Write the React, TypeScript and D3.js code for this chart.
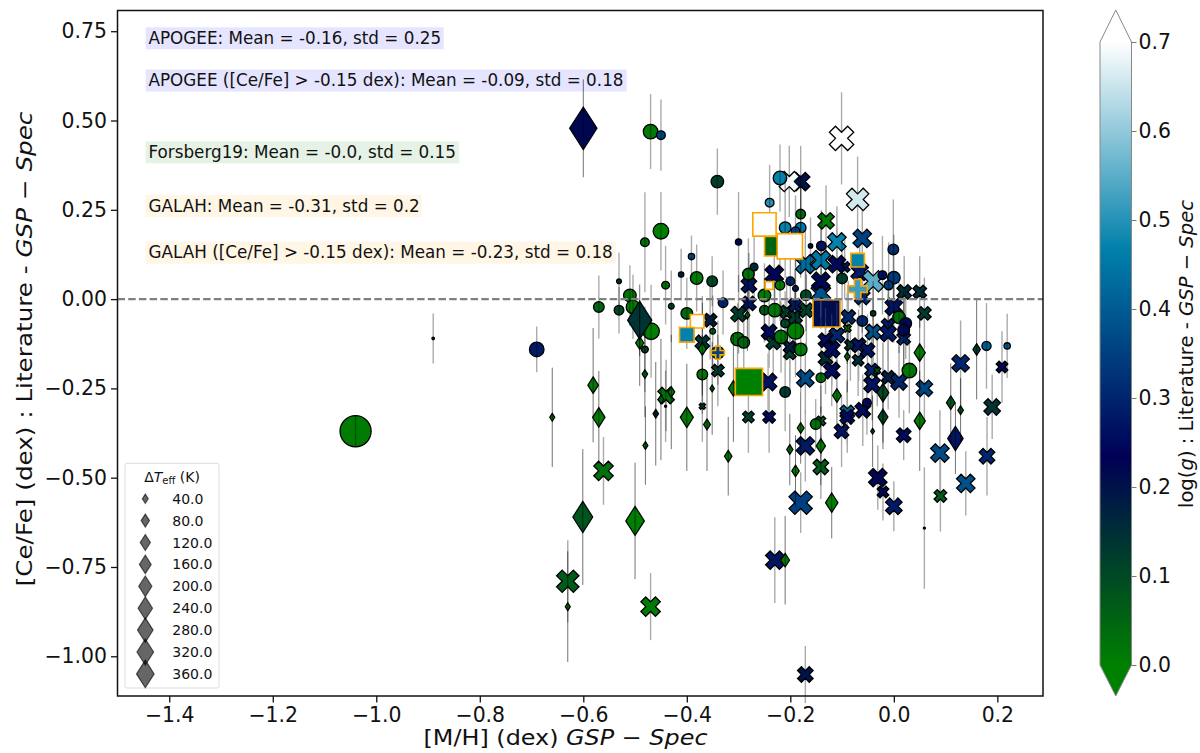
import React, {useEffect, useRef} from 'react';
import * as d3 from 'd3';

// each row: [M/H], [Ce/Fe], delta Teff, delta logg, [Ce/Fe] error
const crossPoints = [
    [-0.18, 0.329, 334, 0.2, 0.1], [-0.202, 0.329, 400, 0.69, 0.1], [-0.101, 0.45, 580, 0.7, 0.129], [-0.07, 0.279, 490, 0.66, 0.12],
    [-0.131, 0.219, 267, 0.01, 0.1], [-0.11, 0.16, 334, 0.47, 0.1], [-0.061, 0.17, 334, 0.35, 0.1],
    [-0.141, 0.017, 370, 0.38, 0.1], [-0.141, 0.05, 334, 0.22, 0.1], [-0.171, 0.098, 370, 0.43, 0.1], [-0.141, 0.109, 370, 0.45, 0.1],
    [-0.095, 0.09, 112, 0.27, 0.09], [-0.11, 0.098, 300, 0.25, 0.1], [-0.231, 0.069, 334, 0.24, 0.1],
    [-0.061, 0.006, 237, 0.3, 0.1], [-0.066, 0.076, 300, 0.28, 0.1], [-0.04, 0.05, 447, 0.55, 0.11], [0.02, 0.02, 208, 0.15, 0.1], [0.05, 0.02, 181, 0.15, 0.1],
    [-0.28, 0.039, 237, 0.27, 0.09], [-0.28, -0.012, 208, 0.27, 0.1], [-0.3, -0.042, 237, 0.12, 0.11], [-0.355, -0.059, 181, 0.18, 0.11],
    [-0.37, -0.121, 208, 0.14, 0.13], [-0.233, -0.121, 208, 0.13, 0.1], [-0.241, -0.092, 237, 0.25, 0.1], [-0.34, -0.2, 156, 0.13, 0.1],
    [-0.243, -0.232, 300, 0.27, 0.08], [-0.44, -0.27, 267, 0.03, 0.1], [-0.37, -0.3, 39, 0.1, 0.1], [-0.281, -0.33, 133, 0.12, 0.1], [-0.241, -0.33, 156, 0.25, 0.1],
    [-0.561, -0.481, 370, 0.03, 0.095], [-0.63, -0.79, 490, 0.07, 0.115], [-0.47, -0.861, 370, 0.01, 0.094], [-0.23, -0.731, 334, 0.27, 0.12],
    [-0.18, -0.57, 532, 0.35, 0.085], [-0.171, -1.051, 237, 0.2, 0.08], [0, -0.58, 267, 0.28, 0.07], [-0.021, -0.54, 133, 0.22, 0.08],
    [0.09, -0.551, 156, 0.07, 0.1], [0.139, -0.516, 334, 0.38, 0.09], [0, -0.022, 300, 0.27, 0.1], [0.059, -0.04, 181, 0.13, 0.1],
    [-0.088, -0.05, 208, 0.3, 0.1], [-0.207, -0.036, 181, 0.12, 0.1], [-0.191, -0.05, 208, 0.13, 0.1], [-0.191, -0.017, 181, 0.28, 0.1], [-0.169, -0.031, 208, 0.12, 0.1],
    [-0.201, -0.152, 156, 0.12, 0.1], [-0.201, -0.134, 156, 0.18, 0.1], [-0.132, -0.166, 208, 0.15, 0.1], [-0.132, -0.115, 208, 0.25, 0.09], [-0.11, -0.101, 237, 0.3, 0.09],
    [-0.12, -0.141, 267, 0.25, 0.1], [-0.12, -0.2, 267, 0.25, 0.1], [-0.171, -0.222, 300, 0.37, 0.1], [-0.069, -0.171, 133, 0.15, 0.1], [-0.084, -0.129, 133, 0.14, 0.1],
    [-0.068, -0.129, 208, 0.27, 0.1], [-0.051, -0.143, 208, 0.27, 0.1], [-0.09, -0.082, 59, 0.03, 0.1], [-0.04, -0.092, 237, 0.38, 0.09], [-0.011, -0.073, 181, 0.28, 0.1],
    [-0.011, -0.096, 267, 0.28, 0.11], [0.019, -0.11, 181, 0.3, 0.11], [-0.043, -0.199, 181, 0.3, 0.1], [-0.032, -0.2, 45, 0.05, 0.1], [-0.011, -0.219, 181, 0.18, 0.09],
    [-0.042, -0.239, 267, 0.27, 0.1], [0.01, -0.232, 267, 0.3, 0.1], [0.059, -0.25, 267, 0.36, 0.1], [0.129, -0.18, 300, 0.3, 0.12], [0.209, -0.19, 133, 0.22, 0.1],
    [0.19, -0.302, 267, 0.14, 0.09], [-0.141, -0.341, 92, 0.07, 0.1], [-0.09, -0.317, 208, 0.4, 0.09], [-0.09, -0.33, 208, 0.25, 0.1], [-0.06, -0.311, 237, 0.25, 0.1],
    [-0.101, -0.37, 208, 0.27, 0.1], [-0.171, -0.411, 334, 0.28, 0.1], [-0.141, -0.47, 237, 0.07, 0.09], [0.019, -0.381, 208, 0.25, 0.07], [0.089, -0.431, 334, 0.37, 0.12],
    [0.18, -0.44, 237, 0.3, 0.11], [-0.031, -0.5, 334, 0.22, 0.09],
];

const circlePoints = [
    [-0.47, 0.469, 208, 0.01, 0.105], [-0.45, 0.459, 75, 0.36, 0.1], [-0.341, 0.329, 156, 0.12, 0.093], [-0.24, 0.27, 75, 0.5, 0.106], [-0.22, 0.339, 181, 0.47, 0.094],
    [-0.481, 0.159, 75, 0.03, 0.14], [-0.45, 0.19, 237, 0, 0.11], [-0.3, 0.16, 39, 0.25, 0.14], [-0.391, 0.119, 39, 0.37, 0.059], [-0.531, 0.05, 23, 0.12, 0.08],
    [-0.411, 0.069, 28, 0.17, 0.072], [-0.381, 0.059, 156, 0.01, 0.094], [-0.351, 0.05, 112, 0.1, 0.07], [-0.441, 0.039, 59, 0.02, 0.11], [-0.51, 0.01, 156, 0.02, 0.085],
    [-0.57, -0.022, 112, 0.05, 0.088], [-0.531, -0.031, 92, 0.1, 0.065], [-0.504, -0.022, 181, 0.01, 0.09], [-0.469, -0.09, 267, 0, 0.13], [-0.481, -0.141, 45, 0.1, 0.12],
    [-0.43, -0.02, 33, 0.1, 0.1], [-0.4, -0.04, 133, 0.04, 0.1], [-0.33, -0.01, 92, 0.3, 0.09], [-0.69, -0.141, 208, 0.28, 0.064], [-1.04, -0.37, 947, 0.01, 0.045],
    [-0.37, -0.211, 112, 0.02, 0.11], [-0.302, -0.112, 181, 0.02, 0.1], [-0.29, -0.121, 133, 0.05, 0.12], [-0.25, -0.031, 92, 0.07, 0.09], [-0.23, -0.031, 181, 0.02, 0.09],
    [-0.25, 0.01, 156, 0.01, 0.09], [-0.281, 0.07, 133, 0.03, 0.1], [-0.27, 0.09, 59, 0.15, 0.09], [-0.35, -0.09, 33, 0.05, 0.1], [-0.22, 0.039, 92, 0.01, 0.1],
    [-0.2, 0.05, 75, 0.3, 0.1], [-0.19, 0.03, 33, 0.3, 0.09], [-0.17, 0.011, 112, 0.1, 0.1], [-0.19, -0.089, 267, 0, 0.13], [-0.218, -0.106, 181, 0.02, 0.1],
    [-0.21, -0.068, 75, 0.1, 0.09], [-0.18, 0.238, 92, 0.04, 0.11], [-0.21, 0.2, 133, 0.47, 0.14], [-0.18, 0.2, 112, 0.45, 0.14], [-0.19, 0.19, 75, 0.35, 0.1],
    [-0.14, 0.149, 92, 0.27, 0.1], [-0.161, 0.149, 19, 0.2, 0.08], [-0.1, 0.058, 112, 0.12, 0.1], [-0.001, 0.139, 112, 0.32, 0.14], [0, 0.06, 156, 0.34, 0.12],
    [-0.01, 0.039, 83, 0.34, 0.12], [-0.022, 0.067, 75, 0.26, 0.11], [0.01, -0.051, 156, 0.03, 0.1], [0.023, -0.068, 133, 0.25, 0.1], [0.019, -0.087, 133, 0.25, 0.11],
    [-0.061, -0.061, 112, 0.3, 0.1], [-0.04, -0.04, 28, 0.12, 0.09], [-0.18, -0.141, 156, 0.01, 0.12], [-0.21, -0.26, 112, 0.13, 0.11], [-0.141, -0.22, 92, 0.03, 0.1],
    [0.03, -0.2, 208, 0.02, 0.12], [-0.151, -0.35, 112, 0.03, 0.07], [-0.052, -0.29, 75, 0.25, 0.09], [0.179, -0.131, 83, 0.4, 0.12], [0.219, -0.131, 39, 0.4, 0.09],
    [-0.89, -0.11, 6, 0.05, 0.07], [0.059, -0.641, 4, 0.1, 0.17], [-0.441, -0.3, 4, 0.1, 0.1], [-0.34, -0.15, 156, 0.02, 0.09],
];

const diamondPoints = [
    [-0.6, 0.478, 896, 0.22, 0.137], [-0.491, -0.123, 80, 0.01, 0.12], [-0.491, -0.059, 704, 0.14, 0.1], [-0.581, -0.241, 134, 0.01, 0.16], [-0.57, -0.331, 185, 0.01, 0.13],
    [-0.66, -0.331, 30, 0.02, 0.139], [-0.481, -0.21, 37, 0.03, 0.12], [-0.48, -0.41, 30, 0.03, 0.11], [-0.46, -0.321, 37, 0.17, 0.145], [-0.43, -0.26, 56, 0.02, 0.16],
    [-0.45, -0.281, 37, 0.01, 0.17], [-0.4, -0.331, 204, 0.01, 0.15], [-0.37, -0.14, 78, 0.01, 0.13], [-0.351, -0.25, 23, 0.03, 0.13], [-0.361, -0.351, 56, 0.02, 0.13],
    [-0.32, -0.44, 67, 0.01, 0.11], [-0.31, -0.25, 120, 0.01, 0.15], [-0.283, -0.045, 30, 0.01, 0.1], [-0.11, -0.27, 91, 0.01, 0.1], [-0.09, -0.161, 37, 0.01, 0.1],
    [-0.021, -0.262, 167, 0.1, 0.14], [0.05, -0.15, 150, 0.01, 0.1], [0.05, -0.341, 150, 0.01, 0.14], [-0.021, -0.33, 118, 0.1, 0.09], [-0.18, -0.361, 56, 0.01, 0.1],
    [-0.201, -0.421, 46, 0.02, 0.1], [-0.141, -0.411, 104, 0, 0.11], [-0.19, -0.481, 67, 0.01, 0.1], [-0.041, -0.37, 17, 0.05, 0.1], [0.11, -0.29, 91, 0.07, 0.11],
    [0.129, -0.311, 37, 0.05, 0.09], [0.119, -0.39, 289, 0.27, 0.1], [0.16, -0.141, 67, 0.12, 0.14], [-0.601, -0.61, 474, 0.08, 0.19], [-0.5, -0.621, 416, 0, 0.163],
    [-0.63, -0.861, 30, 0.02, 0.155], [-0.21, -0.731, 91, 0, 0.124], [-0.12, -0.57, 185, 0, 0.1],
];

// Forsberg19 points carry no visible error bar
const squarePoints = [
    [-0.231, 0.148, 370, 0.05], [-0.25, 0.209, 532, 0.7], [-0.201, 0.148, 625, 0.7], [-0.241, 0.038, 59, 0.7], [-0.07, 0.109, 181, 0.47],
    [-0.13, -0.04, 725, 0.21], [-0.38, -0.062, 181, 0.7], [-0.4, -0.1, 208, 0.47], [-0.28, -0.232, 725, 0],
];
const plusPoints = [[-0.07, 0.028, 370, 0.52], [-0.34, -0.15, 170, 0.35]];

const xTicks = [-1.4, -1.2, -1.0, -0.8, -0.6, -0.4, -0.2, 0.0, 0.2];
const yTicks = [0.75, 0.5, 0.25, 0, -0.25, -0.5, -0.75, -1.0];
const colorTicks = [0, 0.1, 0.2, 0.3, 0.4, 0.5, 0.6, 0.7];
const legendSizes = [40, 80, 120, 160, 200, 240, 280, 320, 360];

const notes = [
    {text: 'APOGEE: Mean = -0.16, std = 0.25', fill: 'rgb(229,229,255)', top: 27.3, width: 298},
    {text: 'APOGEE ([Ce/Fe] > -0.15 dex): Mean = -0.09, std = 0.18', fill: 'rgb(229,229,255)', top: 69.5, width: 481},
    {text: 'Forsberg19: Mean = -0.0, std = 0.15', fill: 'rgb(229,242,229)', top: 141.3, width: 313.5},
    {text: 'GALAH: Mean = -0.31, std = 0.2', fill: 'rgb(255,246,229)', top: 195, width: 276},
    {text: 'GALAH ([Ce/Fe] > -0.15 dex): Mean = -0.23, std = 0.18', fill: 'rgb(255,246,229)', top: 241.7, width: 470},
];

const font = 'DejaVu Sans';

// marker outlines as d3 symbol types, width = sqrt(size) like matplotlib markers
const circleType = {draw(c, s) { c.arc(0, 0, Math.sqrt(s) / 2, 0, 2 * Math.PI); }};
const squareType = {draw(c, s) { const r = Math.sqrt(s) / 2; c.rect(-r, -r, 2 * r, 2 * r); }};
const diamondType = {draw(c, s) {
    const h = Math.sqrt(s) * 0.707, w = h * 0.64;
    c.moveTo(0, -h); c.lineTo(w, 0); c.lineTo(0, h); c.lineTo(-w, 0); c.closePath();
}};
const polygonType = (pts, unit) => ({draw(c, s) {
    const u = Math.sqrt(s) / unit;
    pts.forEach((p, i) => i ? c.lineTo(p[0] * u, p[1] * u) : c.moveTo(p[0] * u, p[1] * u));
    c.closePath();
}});
const crossType = polygonType([[-1, -2], [0, -1], [1, -2], [2, -1], [1, 0], [2, 1], [1, 2], [0, 1], [-1, 2], [-2, 1], [-1, 0], [-2, -1]], 4);
const plusType = polygonType([[-1, -3], [1, -3], [1, -1], [3, -1], [3, 1], [1, 1], [1, 3], [-1, 3], [-1, 1], [-3, 1], [-3, -1], [-1, -1]], 6);

const App: React.FC = () => {
    const svgRef = useRef<SVGSVGElement | null>(null);

    useEffect(() => {
        const svg = d3.select(svgRef.current);
        svg.selectAll('*').remove();

        const plot = {left: 117.5, right: 1043, top: 10.5, bottom: 696};
        const x = d3.scaleLinear().domain([-1.5, 0.2882]).range([plot.left, plot.right]);
        const y = d3.scaleLinear().domain([0.808, -1.1112]).range([plot.top, plot.bottom]);
        // matplotlib "ocean" is piecewise linear between these four stops
        const color = d3.scaleLinear<string>()
            .domain([0, 0.7 / 3, 1.4 / 3, 0.7])
            .range(['rgb(0,128,0)', 'rgb(0,0,85)', 'rgb(0,128,170)', 'rgb(255,255,255)'])
            .clamp(true);
        const markerSize = (t: number) => t * 1.02;

        // notes behind the points
        notes.forEach(n => {
            svg.append('rect').attr('x', 145.7).attr('y', n.top).attr('width', n.width).attr('height', 22).attr('fill', n.fill);
            svg.append('text').attr('x', 148.5).attr('y', n.top + 16.5).attr('font-family', font).attr('font-size', 16.8).attr('fill', '#111').text(n.text);
        });

        const drawErrors = (rows, stroke, width) => {
            svg.append('g').selectAll('line').data(rows).enter().append('line')
                .attr('x1', d => x(d[0])).attr('x2', d => x(d[0]))
                .attr('y1', d => y(d[1] - d[4])).attr('y2', d => y(d[1] + d[4]))
                .attr('stroke', stroke).attr('stroke-width', width);
        };
        const drawMarkers = (rows, type, edge, edgeWidth) => {
            const symbol = d3.symbol().type(type).size(d => markerSize(d[2]));
            svg.append('g').selectAll('path').data(rows).enter().append('path')
                .attr('transform', d => `translate(${x(d[0])},${y(d[1])})`)
                .attr('d', symbol)
                .attr('fill', d => color(d[3]))
                .attr('stroke', edge).attr('stroke-width', edgeWidth);
        };

        drawErrors(crossPoints, '#aaa', 1.4);
        drawMarkers(crossPoints, crossType, '#000', 1.3);
        drawMarkers(circlePoints, circleType, '#000', 1.3);
        drawErrors(circlePoints, 'rgba(0,0,0,0.33)', 1.4);
        drawMarkers(diamondPoints, diamondType, '#000', 1.2);
        drawErrors(diamondPoints, 'rgba(0,0,0,0.55)', 1);
        drawMarkers(squarePoints, squareType, 'orange', 1.6);
        drawMarkers(plusPoints, plusType, 'orange', 1.6);

        // the dark square shows the error bars of the crosses running across it
        const stripedSquare = squarePoints[5];
        const half = Math.sqrt(markerSize(stripedSquare[2])) / 2;
        const crossing = crossPoints.filter(d => Math.abs(x(d[0]) - x(stripedSquare[0])) < half - 1
            && y(d[1] + d[4]) < y(stripedSquare[1]) + half && y(d[1] - d[4]) > y(stripedSquare[1]) - half);
        svg.append('g').selectAll('line').data(crossing).enter().append('line')
            .attr('x1', d => x(d[0])).attr('x2', d => x(d[0]))
            .attr('y1', d => Math.max(y(d[1] + d[4]), y(stripedSquare[1]) - half + 1))
            .attr('y2', d => Math.min(y(d[1] - d[4]), y(stripedSquare[1]) + half - 1))
            .attr('stroke', 'rgba(170,170,170,0.22)').attr('stroke-width', 1.2);

        svg.append('line').attr('x1', plot.left).attr('x2', plot.right).attr('y1', y(0)).attr('y2', y(0))
            .attr('stroke', 'gray').attr('stroke-width', 2.2).attr('stroke-dasharray', '7.5,3.2');

        // legend
        const legendX = 145.3;
        const legendRow = d3.scaleLinear().domain([0, 1]).range([498.7, 520.6]);
        svg.append('rect').attr('x', 125).attr('y', 463.3).attr('width', 94).attr('height', 224.7).attr('rx', 2)
            .attr('fill', '#fff').attr('fill-opacity', 0.8).attr('stroke', '#ddd').attr('stroke-width', 1);
        const title = svg.append('text').attr('x', 172).attr('y', 481.5).attr('text-anchor', 'middle')
            .attr('font-family', font).attr('font-size', 14).attr('fill', '#111');
        title.append('tspan').text('Δ');
        title.append('tspan').attr('font-style', 'italic').text('T');
        title.append('tspan').attr('font-size', 10).attr('dy', 2).text('eff');
        title.append('tspan').attr('dy', -2).text(' (K)');
        legendSizes.forEach((t, i) => {
            svg.append('path').attr('transform', `translate(${legendX},${legendRow(i)})`)
                .attr('d', d3.symbol().type(diamondType).size(markerSize(t) * 1.04)())
                .attr('fill', 'rgba(0,0,0,0.6)').attr('stroke', 'rgba(0,0,0,0.6)').attr('stroke-width', 1.2);
            svg.append('text').attr('x', 172.3).attr('y', legendRow(i) + 5).attr('font-family', font).attr('font-size', 14)
                .attr('fill', '#111').text(t.toFixed(1));
        });

        // axes
        const styleAxis = g => {
            g.selectAll('text').attr('font-family', font).attr('font-size', 20.4).attr('fill', '#111');
            g.selectAll('line').attr('stroke', '#111').attr('stroke-width', 1.3);
            g.select('.domain').remove();
        };
        svg.append('g').attr('transform', `translate(0,${plot.bottom})`)
            .call(d3.axisBottom(x).tickValues(xTicks).tickFormat(d3.format('.1f')).tickSize(6.5).tickPadding(5)).call(styleAxis);
        svg.append('g').attr('transform', `translate(${plot.left},0)`)
            .call(d3.axisLeft(y).tickValues(yTicks).tickFormat(d3.format('.2f')).tickSize(6.5).tickPadding(4)).call(styleAxis);
        svg.append('rect').attr('x', plot.left).attr('y', plot.top).attr('width', plot.right - plot.left).attr('height', plot.bottom - plot.top)
            .attr('fill', 'none').attr('stroke', '#111').attr('stroke-width', 1.5);

        // the long axis titles run wider than the font alone gives
        const xLabel = svg.append('text').attr('transform', 'translate(565.5,745) scale(1.138,1)').attr('text-anchor', 'middle')
            .attr('font-family', font).attr('font-size', 21).attr('fill', '#111');
        xLabel.append('tspan').text('[M/H] (dex) ');
        xLabel.append('tspan').attr('font-style', 'italic').text('GSP − Spec');

        const yLabel = svg.append('text').attr('transform', 'translate(32,349) rotate(-90) scale(1.174,1)').attr('text-anchor', 'middle')
            .attr('font-family', font).attr('font-size', 21).attr('fill', '#111');
        yLabel.append('tspan').text('[Ce/Fe] (dex) : Literature - ');
        yLabel.append('tspan').attr('font-style', 'italic').text('GSP − Spec');

        // colorbar
        const cb = {left: 1100, right: 1131.5, top: 42, bottom: 665};
        const cy = d3.scaleLinear().domain([0, 0.7]).range([cb.bottom, cb.top]);
        const gradient = svg.append('defs').append('linearGradient').attr('id', 'ocean')
            .attr('x1', 0).attr('x2', 0).attr('y1', 1).attr('y2', 0);
        color.domain().forEach(v => {
            gradient.append('stop').attr('offset', v / 0.7).attr('stop-color', color(v));
        });
        const midX = (cb.left + cb.right) / 2;
        svg.append('path').attr('d', d3.line()([[cb.left, cb.top], [midX, 10], [cb.right, cb.top]])).attr('fill', '#fff');
        svg.append('path').attr('d', d3.line()([[cb.left, cb.bottom], [midX, 696], [cb.right, cb.bottom]])).attr('fill', color(0));
        svg.append('rect').attr('x', cb.left).attr('y', cb.top).attr('width', cb.right - cb.left).attr('height', cb.bottom - cb.top).attr('fill', 'url(#ocean)');
        svg.append('path')
            .attr('d', d3.line()([[cb.left, cb.top], [midX, 10], [cb.right, cb.top], [cb.right, cb.bottom], [midX, 696], [cb.left, cb.bottom]]) + 'Z')
            .attr('fill', 'none').attr('stroke', '#888').attr('stroke-width', 1);
        const cAxis = svg.append('g').attr('transform', `translate(${cb.right},0)`)
            .call(d3.axisRight(cy).tickValues(colorTicks).tickFormat(d3.format('.1f')).tickSize(5).tickPadding(2));
        cAxis.call(styleAxis);
        cAxis.selectAll('line').attr('stroke', '#777').attr('stroke-width', 1);

        const cLabel = svg.append('text').attr('transform', 'translate(1193,354) rotate(-90)').attr('text-anchor', 'middle')
            .attr('font-family', font).attr('font-size', 19.6).attr('fill', '#111');
        cLabel.append('tspan').text('log(');
        cLabel.append('tspan').attr('font-style', 'italic').text('g');
        cLabel.append('tspan').text(') : Literature - ');
        cLabel.append('tspan').attr('font-style', 'italic').text('GSP − Spec');
    }, []);

    return (
        <svg ref={svgRef} width={1200} height={753} style={{position: 'absolute', left: 0, top: 0, background: '#fff'}}/>
    );
};

export default App;
